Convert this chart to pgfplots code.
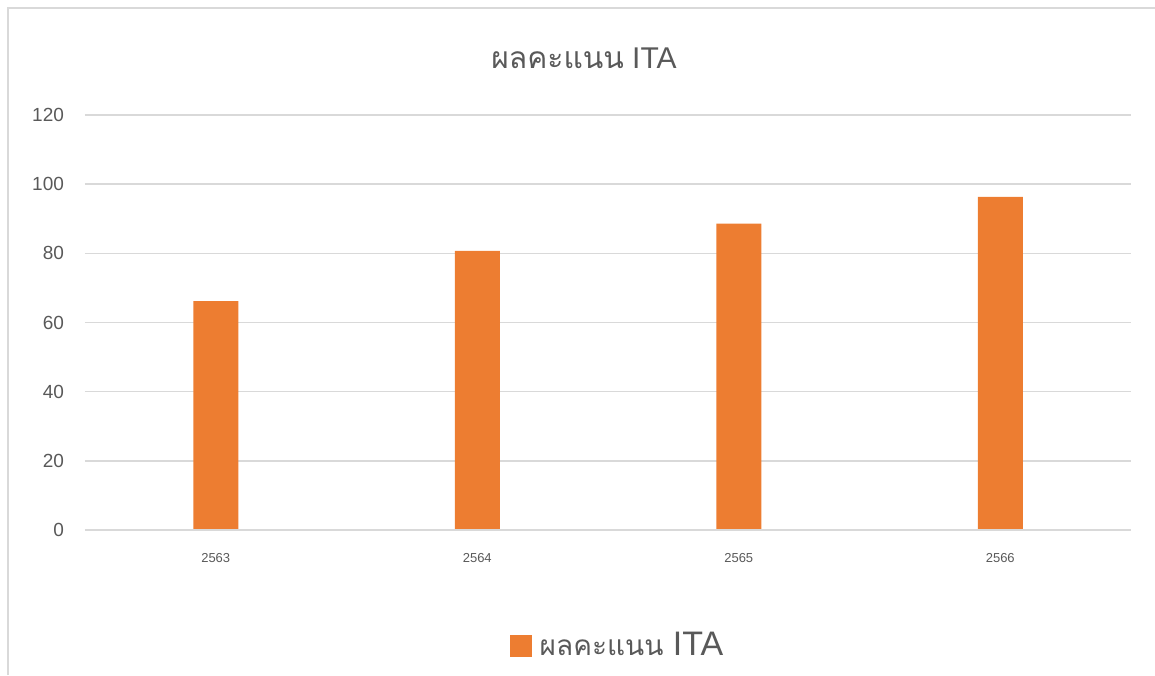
\documentclass[border=0pt]{standalone}
\usepackage{pgfplots}
\pgfplotsset{compat=1.18}
\usepackage{fontspec}
\setmainfont{Liberation Sans}
\newfontfamily\thaifont[Script=Thai]{Loma}
\definecolor{barorange}{HTML}{ED7D31}
\definecolor{gridgray}{HTML}{D9D9D9}
\definecolor{textgray}{HTML}{595959}
\begin{document}
\begin{tikzpicture}[x=0.5pt,y=0.5pt]
\path[use as bounding box] (0,0) rectangle (1155,675);
\draw[gridgray,line width=0.8pt] (8,0) -- (8,667) -- (1155,667);
\node[text=textgray,font=\fontsize{15}{17}\selectfont] at (584,617) {{\thaifont ผลคะแนน} ITA};
\begin{axis}[
  at={(42.5pt,72.5pt)},
  anchor=south west,
  scale only axis,
  width=523pt, height=207.5pt,
  ymin=0, ymax=120,
  ytick={0,20,...,120},
  xmin=-0.5, xmax=3.5,
  xtick={0,1,2,3},
  xticklabels={2563,2564,2565,2566},
  ymajorgrids,
  grid style={gridgray,line width=0.8pt},
  axis line style={draw=none},
  major tick length=0pt,
  tick style={draw=none},
  yticklabel style={text=textgray,font=\fontsize{9.5}{11}\selectfont},
  xticklabel style={text=textgray,font=\fontsize{6.5}{8}\selectfont},
  y tick label style={xshift=-7pt},
  x tick label style={yshift=-8pt},
  /pgf/number format/assume math mode=true,
  legend style={at={(0.51,-0.277)},anchor=center,draw=none,fill=none,
    font=\fontsize{17}{20}\selectfont,text=textgray,
    /tikz/every even column/.append style={column sep=0pt}},
  legend image code/.code={\fill[#1] (0pt,-6pt) rectangle (11pt,5pt);},
]
\addplot[ybar,bar width=22.5pt,fill=barorange,draw=none] coordinates {(0,66.2) (1,80.7) (2,88.6) (3,96.3)};
\addlegendentry{\hspace{2pt}{\thaifont\fontsize{14}{18}\selectfont ผลคะแนน} ITA}
\draw[gridgray,line width=0.8pt] (axis cs:-0.5,0) -- (axis cs:3.5,0);
\end{axis}
\end{tikzpicture}
\end{document}
